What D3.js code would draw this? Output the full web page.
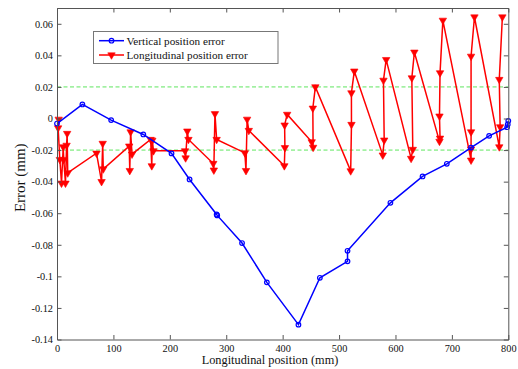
<!DOCTYPE html>
<html>
<head>
<meta charset="utf-8">
<script src="https://cdn.jsdelivr.net/npm/d3@7"></script>
<style>
  body { margin: 0; background: #fff; }
  svg { display: block; font-family: 'Liberation Serif', 'Times New Roman', serif; }
</style>
</head>
<body>
<div id="chart"></div>
<script>
// vertical position error (blue, circles)
const verticalX = [0, 45, 96, 153, 203, 235, 283, 284, 328, 372, 428, 466, 515, 515, 591, 648, 691, 734, 766, 798, 799, 800];
const verticalY = [-0.0032, 0.0089, -0.001, -0.0101, -0.0221, -0.0386, -0.0608, -0.0614, -0.0789, -0.1038, -0.1306, -0.1009, -0.0905, -0.0838, -0.0534, -0.0367, -0.0287, -0.0184, -0.011, -0.0055, -0.0038, -0.0015];

// longitudinal position error (red, triangles)
const longX = [3, 2, 5, 8, 11, 12, 15, 17, 18, 19,
  70, 79, 81, 82,
  128, 129, 130.5, 133,
  166, 168, 169, 171,
  227, 228, 231, 233,
  277, 278, 280, 283,
  333, 335, 337, 340,
  403, 404, 403.5, 408,
  451.5, 454, 453.5, 458,
  520.6, 522, 521.9, 527,
  577.5, 580, 578.7, 583.5,
  627.7, 630.7, 629, 633.5,
  678, 679, 678, 679, 684,
  734, 734, 734, 734, 740,
  784, 785.5, 784, 789.5];
const longY = [-0.0005, -0.006, -0.026, -0.041, -0.018, -0.026, -0.041, -0.017, -0.0095, -0.0345,
  -0.022, -0.040, -0.0158, -0.032,
  -0.0175, -0.033, -0.0085, -0.0226,
  -0.0133, -0.030, -0.0138, -0.0205,
  -0.0205, -0.025, -0.008, -0.0133,
  -0.0285, -0.0327, 0.003, -0.0133,
  -0.0218, -0.0330, -0.0005, -0.0076,
  -0.030, -0.0185, -0.0042, 0.0026,
  -0.0148, -0.0183, 0.0065, 0.020,
  -0.0332, -0.0038, 0.0162, 0.030,
  -0.0232, -0.0137, 0.0242, 0.0373,
  -0.0253, -0.0196, 0.0257, 0.042,
  -0.0145, -0.0125, 0.0015, 0.0289, 0.0622,
  -0.0264, -0.0194, -0.0085, 0.0394, 0.0643,
  -0.018, -0.0053, 0.0247, 0.0643];

const xTicks = [0, 100, 200, 300, 400, 500, 600, 700, 800];
const yTicks = [-0.14, -0.12, -0.1, -0.08, -0.06, -0.04, -0.02, 0, 0.02, 0.04, 0.06];
const limitLines = [0.02, -0.02];
const seriesNames = ['Vertical position error', 'Longitudinal position error'];

const width = 518, height = 369;
const margin = { top: 8, right: 9.7, bottom: 29.5, left: 57 };

const x = d3.scaleLinear().domain([0, 800]).range([margin.left, width - margin.right]);
const y = d3.scaleLinear().domain([-0.14, 0.07]).range([height - margin.bottom, margin.top]);

const svg = d3.select('#chart').append('svg')
  .attr('width', width)
  .attr('height', height);

const fmt = d => (d === 0 ? '0' : String(d));

// green tolerance lines
svg.append('g')
  .selectAll('line')
  .data(limitLines)
  .join('line')
  .attr('x1', x(0)).attr('x2', x(800))
  .attr('y1', d => y(d)).attr('y2', d => y(d))
  .attr('stroke', '#5ee65e')
  .attr('stroke-width', 1)
  .attr('stroke-dasharray', '4,2.5');

const blue = verticalX.map((d, i) => [d, verticalY[i]]);
const red = longX.map((d, i) => [d, longY[i]]);

const line = d3.line().x(d => x(d[0])).y(d => y(d[1]));
const tri = d3.symbol().type(d3.symbolTriangle).size(24);

// red series
svg.append('path')
  .datum(red)
  .attr('fill', 'none')
  .attr('stroke', '#ff0000')
  .attr('stroke-width', 1.5)
  .attr('d', line);
svg.append('g')
  .selectAll('path')
  .data(red)
  .join('path')
  .attr('d', tri)
  .attr('transform', d => `translate(${x(d[0])},${y(d[1])}) rotate(180)`)
  .attr('fill', '#ff0000')
  .attr('stroke', '#ff0000')
  .attr('stroke-width', 0.6);

// blue series
svg.append('path')
  .datum(blue)
  .attr('fill', 'none')
  .attr('stroke', '#0000ff')
  .attr('stroke-width', 1.5)
  .attr('d', line);
svg.append('g')
  .selectAll('circle')
  .data(blue)
  .join('circle')
  .attr('cx', d => x(d[0]))
  .attr('cy', d => y(d[1]))
  .attr('r', 2.3)
  .attr('fill', 'none')
  .attr('stroke', '#0000ff')
  .attr('stroke-width', 1.2);

// axes box with inward ticks on all four sides
const axisColor = '#555';
const tickLen = 4.5;

const axBottom = svg.append('g')
  .attr('transform', `translate(0,${y(-0.14)})`)
  .call(d3.axisBottom(x).tickValues(xTicks).tickSize(-tickLen).tickPadding(5).tickFormat(d3.format('d')));
const axTop = svg.append('g')
  .attr('transform', `translate(0,${y(0.07)})`)
  .call(d3.axisTop(x).tickValues(xTicks).tickSize(-tickLen).tickFormat(''));
const axLeft = svg.append('g')
  .attr('transform', `translate(${x(0)},0)`)
  .call(d3.axisLeft(y).tickValues(yTicks).tickSize(-tickLen).tickPadding(4).tickFormat(fmt));
const axRight = svg.append('g')
  .attr('transform', `translate(${x(800)},0)`)
  .call(d3.axisRight(y).tickValues(yTicks).tickSize(-tickLen).tickFormat(''));

[axBottom, axTop, axLeft, axRight].forEach(g => {
  g.attr('font-family', null).attr('font-size', null);
  g.select('.domain').attr('stroke', axisColor).attr('stroke-width', 1);
  g.selectAll('.tick line').attr('stroke', axisColor);
  g.selectAll('.tick text')
    .attr('fill', '#111')
    .style('font-family', "'Liberation Serif', serif")
    .style('font-size', '10.3px');
});
// drop tick marks that sit on the box corners
axTop.selectAll('.tick').filter(d => d === 0 || d === 800).select('line').remove();
axBottom.selectAll('.tick').filter(d => d === 0 || d === 800).select('line').remove();
axLeft.selectAll('.tick').filter(d => d === -0.14).select('line').remove();
axRight.selectAll('.tick').filter(d => d === -0.14).select('line').remove();

// axis labels
svg.append('text')
  .attr('x', 270)
  .attr('y', 364)
  .attr('text-anchor', 'middle')
  .attr('fill', '#111')
  .style('font-size', '12.3px')
  .text('Longitudinal position (mm)');

svg.append('text')
  .attr('transform', `translate(25,${(y(-0.14) + y(0.07)) / 2 + 4}) rotate(-90)`)
  .attr('text-anchor', 'middle')
  .attr('fill', '#111')
  .style('font-size', '15px')
  .text('Error (mm)');

// legend
const legend = svg.append('g');
legend.append('rect')
  .attr('x', 93.5).attr('y', 31.5)
  .attr('width', 184.5).attr('height', 32)
  .attr('fill', '#fff')
  .attr('stroke', '#777')
  .attr('stroke-width', 1);

const rows = [
  { name: seriesNames[0], color: '#0000ff', y: 40.7 },
  { name: seriesNames[1], color: '#ff0000', y: 55 },
];
rows.forEach((r, i) => {
  legend.append('line')
    .attr('x1', 99).attr('x2', 124)
    .attr('y1', r.y).attr('y2', r.y)
    .attr('stroke', r.color)
    .attr('stroke-width', 1.5);
  if (i === 0) {
    legend.append('circle')
      .attr('cx', 111.5).attr('cy', r.y).attr('r', 2.3)
      .attr('fill', 'none').attr('stroke', r.color).attr('stroke-width', 1.2);
  } else {
    legend.append('path')
      .attr('d', tri)
      .attr('transform', `translate(111.5,${r.y}) rotate(180)`)
      .attr('fill', r.color).attr('stroke', r.color).attr('stroke-width', 0.6);
  }
  legend.append('text')
    .attr('x', 126.5)
    .attr('y', r.y + 3.8)
    .attr('fill', '#111')
    .style('font-size', '11.2px')
    .text(r.name);
});
</script>
</body>
</html>
